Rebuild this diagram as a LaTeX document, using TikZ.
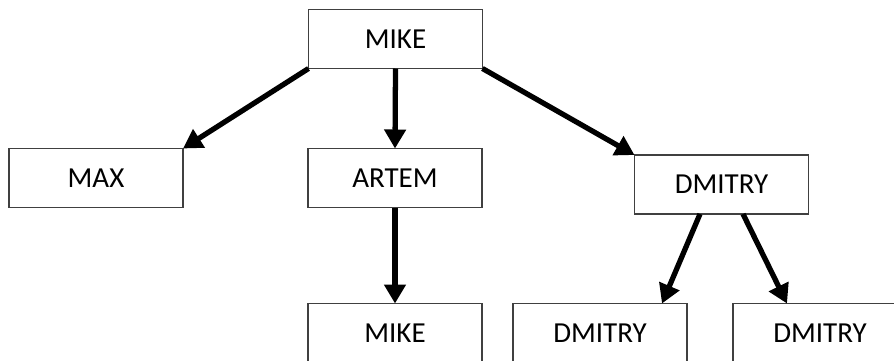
\documentclass[tikz,border=0pt]{standalone}
\usepackage{fontspec}
\setmainfont{Carlito}
\usepackage{tikz}
\usetikzlibrary{calc}
\usetikzlibrary{arrows.meta}
\tikzset{namebox/.style={draw=black!75, line width=0.8pt, rectangle, inner sep=0pt, outer sep=0pt,
    minimum width=3.48cm, minimum height=1.18cm, font=\fontsize{16.5}{20}\selectfont},
  link/.style={line width=3pt, -{Triangle[length=0.38cm,width=0.42cm]}}}
\newcommand{\namebox}[4]{\node[namebox] (#1) at ( #2 , #3 ) {#4};}

\begin{document}
\begin{tikzpicture}[x=0.02cm, y=-0.02cm]
        \useasboundingbox (0,0) rectangle (894,360);
        % level 1
        \namebox{mike}{395.5}{39}{MIKE}
        % level 2
        \namebox{max}{96}{178}{MAX}
        \namebox{artem}{395}{178}{ARTEM}
        \namebox{dmitry}{721.5}{184.5}{DMITRY}
        % level 3
        \namebox{mikeb}{395}{333}{MIKE}
        \namebox{dmitryl}{600}{333}{DMITRY}
        \namebox{dmitryr}{820}{333}{DMITRY}
        % links from mike
        \draw[link] (mike.south west) -- (max.north east);
        \draw[link] (mike.south) -- (artem.north);
        \draw[link] (mike.south east) -- (dmitry.north west);
        % links below
        \draw[link] (artem.south) -- (mikeb.north);
        \draw[link] ($(dmitry.south)+(-21.5,0)$) -- ($(dmitryl.north)+(62,0)$);
        \draw[link] ($(dmitry.south)+(21.5,0)$) -- ($(dmitryr.north)+(-33,0)$);
\end{tikzpicture}
\end{document}
